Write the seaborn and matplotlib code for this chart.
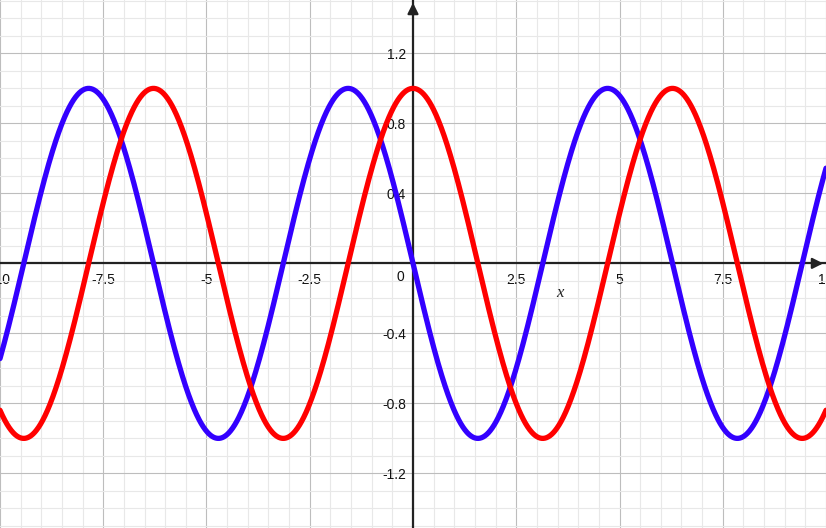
import numpy as np
import pandas as pd
import seaborn as sns
import matplotlib.pyplot as plt
from matplotlib.ticker import MultipleLocator, FixedLocator

# curves: blue = -sin(x), red = cos(x)
x_range = [-10, 10]
amplitude = 1.0
blue_phase = np.pi      # -sin(x) == sin(x + pi)
red_phase = np.pi / 2   # cos(x) == sin(x + pi/2)
blue_color = "#3300ff"
red_color = "#ff0000"

x_ticks = [-10, -7.5, -5, -2.5, 0, 2.5, 5, 7.5, 10]
x_labels = ["-10", "-7.5", "-5", "-2.5", "", "2.5", "5", "7.5", "10"]
y_ticks = [-1.2, -0.8, -0.4, 0.4, 0.8, 1.2]
y_labels = ["-1.2", "-0.8", "-0.4", "0.4", "0.8", "1.2"]

xs = np.linspace(x_range[0], x_range[1], 2000)
df = pd.DataFrame({
    "x": xs,
    "blue": amplitude * np.sin(xs + blue_phase),
    "red": amplitude * np.sin(xs + red_phase),
})

sns.set_style("white")
plt.rcParams["font.family"] = ["Liberation Sans", "DejaVu Sans"]

fig = plt.figure(figsize=(8.26, 5.28), dpi=100)
ax = fig.add_axes([0, 0, 1, 1])

sns.lineplot(data=df, x="x", y="blue", color=blue_color, linewidth=3.8, ax=ax, zorder=5)
sns.lineplot(data=df, x="x", y="red", color=red_color, linewidth=3.8, ax=ax, zorder=5)

ax.set_xlim(-10, 10)
ax.set_ylim(-1.512, 1.505)

# grid
ax.xaxis.set_major_locator(FixedLocator(x_ticks))
ax.yaxis.set_major_locator(FixedLocator(y_ticks))
ax.xaxis.set_minor_locator(MultipleLocator(0.5))
ax.yaxis.set_minor_locator(MultipleLocator(0.1))
ax.grid(which="minor", color="#e8e8e8", linewidth=0.8, zorder=0)
ax.grid(which="major", color="#bdbdbd", linewidth=0.8, zorder=1)
ax.set_axisbelow(True)

ax.set_xticklabels(x_labels)
ax.set_yticklabels(y_labels)

# axes through the origin
for side in ["top", "right"]:
    ax.spines[side].set_visible(False)
ax.spines["left"].set_position("zero")
ax.spines["bottom"].set_position("zero")
for side in ["left", "bottom"]:
    ax.spines[side].set_color("#222222")
    ax.spines[side].set_linewidth(1.6)
    ax.spines[side].set_zorder(4)

ax.tick_params(which="major", direction="inout", length=8, width=1.6, color="#222222",
               labelsize=10, labelcolor="#111111")
ax.tick_params(which="minor", direction="inout", length=5, width=1.3, color="#222222")
ax.tick_params(axis="x", pad=3)
ax.tick_params(axis="y", pad=1)

ax.set_xlabel("")
ax.set_ylabel("")
ax.text(-0.22, -0.04, "0", ha="right", va="top", fontsize=10, color="#111111")
ax.text(3.55, -0.17, "x", ha="center", va="center", fontsize=12,
        family="Liberation Serif", style="italic", color="#222222")

# arrows
ax.annotate("", xy=(0, 1.505), xytext=(0, 1.40),
            arrowprops=dict(arrowstyle="-|>", color="#222222", lw=1.6, mutation_scale=16),
            annotation_clip=False, zorder=6)
ax.annotate("", xy=(10, 0), xytext=(9.7, 0),
            arrowprops=dict(arrowstyle="-|>", color="#222222", lw=1.6, mutation_scale=16),
            annotation_clip=False, zorder=6)

fig.savefig("out.png", dpi=100)
